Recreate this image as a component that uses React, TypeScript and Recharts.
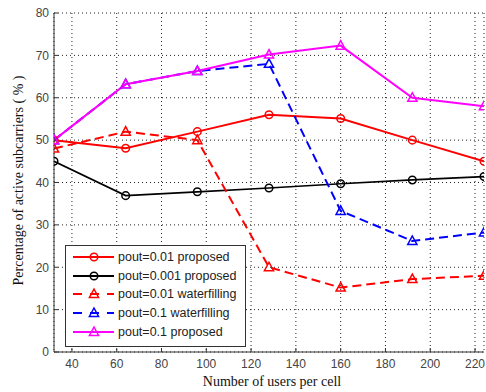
import { LineChart, Line, XAxis, YAxis, CartesianGrid, Legend } from "recharts";

const users = [32, 64, 96, 128, 160, 192, 224];
const proposed001 = [50, 48.1, 52, 56, 55.1, 50, 45];
const proposed0001 = [45, 36.9, 37.8, 38.7, 39.7, 40.6, 41.4];
const water001 = [48, 52, 50, 20, 15.2, 17.2, 18];
const water01 = [50, 63.2, 66.3, 68, 33.3, 26.2, 28.2];
const proposed01 = [50, 63.2, 66.3, 70.2, 72.3, 60, 58];

const xTicks = [40, 60, 80, 100, 120, 140, 160, 180, 200, 220];
const yTicks = [0, 10, 20, 30, 40, 50, 60, 70, 80];

const data = users.map((u, i) => ({
  users: u,
  p001: proposed001[i],
  p0001: proposed0001[i],
  w001: water001[i],
  w01: water01[i],
  p01: proposed01[i],
}));

type Series = { key: string; name: string; color: string; marker: "circle" | "triangle"; dash?: string; width: number };

const SERIES: Series[] = [
  { key: "p001", name: "pout=0.01 proposed", color: "#ff0000", marker: "circle", width: 2 },
  { key: "p0001", name: "pout=0.001 proposed", color: "#000000", marker: "circle", width: 1.7 },
  { key: "w001", name: "pout=0.01 waterfilling", color: "#ff0000", marker: "triangle", dash: "9 5", width: 2 },
  { key: "w01", name: "pout=0.1 waterfilling", color: "#0000ff", marker: "triangle", dash: "9 5", width: 2 },
  { key: "p01", name: "pout=0.1 proposed", color: "#ff00ff", marker: "triangle", width: 2 },
];

const AXIS = "#333";
const TICK_FONT = { fontSize: 12, fill: "#444", fontFamily: "'Liberation Sans', Arial, sans-serif" };
const TITLE_FONT = "'Liberation Serif', 'Times New Roman', serif";

function Marker({ cx, cy, color, marker }: { cx: number; cy: number; color: string; marker: string }) {
  if (cx == null || cy == null) return null;
  if (marker === "circle") {
    return <circle cx={cx} cy={cy} r={3.8} fill="none" stroke={color} strokeWidth={1.5} />;
  }
  return (
    <polygon
      points={`${cx},${cy - 5} ${cx - 4.6},${cy + 3.5} ${cx + 4.6},${cy + 3.5}`}
      fill="none"
      stroke={color}
      strokeWidth={1.5}
    />
  );
}

function LegendBox() {
  return (
    <div
      style={{
        border: "1px solid #333",
        background: "#fff",
        width: 179,
        height: 98,
        boxSizing: "content-box",
        paddingTop: 1.5,
        fontFamily: "'Liberation Sans', Arial, sans-serif",
        fontSize: 12.5,
        color: "#222",
      }}
    >
      {SERIES.map((s) => (
        <div key={s.key} style={{ display: "flex", alignItems: "center", height: 18.7 }}>
          <svg width={52} height={18} style={{ flex: "none" }}>
            <line x1={7} x2={48} y1={9} y2={9} stroke={s.color} strokeWidth={2} strokeDasharray={s.dash ? "9 8" : undefined} />
            <Marker cx={28} cy={9} color={s.color} marker={s.marker} />
          </svg>
          <span style={{ whiteSpace: "nowrap" }}>{s.name}</span>
        </div>
      ))}
    </div>
  );
}

export default function App() {
  return (
    <div style={{ position: "absolute", left: 0, top: 0, width: 486, height: 392, background: "#fff" }}>
      <LineChart width={486} height={392} data={data} margin={{ top: 13, right: 2, left: 0, bottom: 0 }}>
        <CartesianGrid stroke="#222" strokeDasharray="1 3" strokeWidth={1} />
        <XAxis
          dataKey="users"
          type="number"
          domain={[32, 224]}
          ticks={xTicks}
          height={40}
          tick={TICK_FONT}
          tickSize={-4}
          tickMargin={11}
          stroke={AXIS}
          allowDataOverflow
          label={{
            content: (p: any) => (
              <text x={p.viewBox.x + 218} y={386} textAnchor="middle" fontFamily={TITLE_FONT} fontSize={14} fill="#111">
                Number of users per cell
              </text>
            ),
          }}
        />
        <XAxis
          xAxisId="top"
          orientation="top"
          dataKey="users"
          type="number"
          domain={[32, 224]}
          ticks={xTicks}
          height={0}
          tickSize={-4}
          tickFormatter={() => ""}
          stroke={AXIS}
          allowDataOverflow
        />
        <YAxis
          domain={[0, 80]}
          ticks={yTicks}
          width={54}
          tick={TICK_FONT}
          tickSize={-4}
          tickMargin={9}
          stroke={AXIS}
          label={{
            content: (p: any) => (
              <text
                x={20}
                y={p.viewBox.y + p.viewBox.height / 2 - 2}
                transform={`rotate(-90, 20, ${p.viewBox.y + p.viewBox.height / 2 - 2})`}
                textAnchor="middle"
                dominantBaseline="middle"
                fontFamily={TITLE_FONT}
                fontSize={14}
                fill="#111"
              >
                Percentage of active subcarriers ( % )
              </text>
            ),
          }}
        />
        <YAxis
          yAxisId="right"
          orientation="right"
          domain={[0, 80]}
          ticks={yTicks}
          width={0}
          tickSize={-4}
          tickFormatter={() => ""}
          stroke={AXIS}
        />
        {SERIES.map((s) => (
          <Line
            key={s.key}
            dataKey={s.key}
            name={s.name}
            stroke={s.color}
            strokeWidth={s.width}
            strokeDasharray={s.dash}
            isAnimationActive={false}
            dot={(p: any) => <Marker key={`${s.key}-${p.index}`} cx={p.cx} cy={p.cy} color={s.color} marker={s.marker} />}
            activeDot={false}
          />
        ))}
        <Legend
          layout="vertical"
          align="center"
          verticalAlign="middle"
          content={() => <LegendBox />}
          wrapperStyle={{ left: 65, top: 245, width: 181, height: 100 }}
        />
      </LineChart>
    </div>
  );
}
